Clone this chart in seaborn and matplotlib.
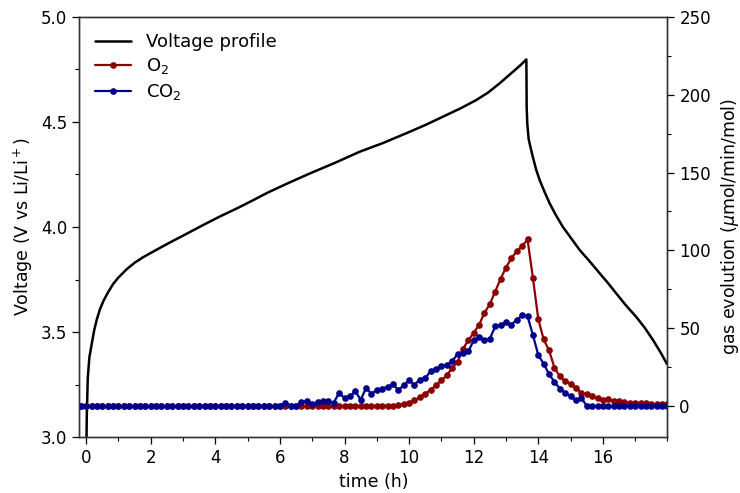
import numpy as np
import pandas as pd
import matplotlib
matplotlib.use("Agg")
import matplotlib.pyplot as plt
from matplotlib.ticker import MultipleLocator
from matplotlib.lines import Line2D
import seaborn as sns

# ---------------- data ----------------
volt_time = [0.0, 0.02, 0.05, 0.10, 0.18, 0.25, 0.33, 0.43, 0.54, 0.68, 0.84, 1.0,
             1.26, 1.5, 1.75, 1.98, 2.3, 2.6, 3.0, 3.63, 4.1, 4.66, 5.1, 5.6,
             6.2, 6.93, 7.7, 8.47, 9.2, 10.02, 10.5, 11.05, 11.6, 12.08, 12.45,
             12.8, 13.22, 13.45, 13.63,
             13.635, 13.64, 13.66, 13.70, 13.75, 13.83, 13.93, 14.04, 14.2, 14.35,
             14.55, 14.76, 15.0, 15.28, 15.6, 15.9, 16.15, 16.41, 16.7, 17.03,
             17.3, 17.55, 17.8, 17.98]
volt_value = [2.85, 3.10, 3.28, 3.38, 3.45, 3.51, 3.56, 3.61, 3.65, 3.69, 3.73, 3.76,
              3.80, 3.83, 3.855, 3.875, 3.902, 3.927, 3.959, 4.010, 4.047, 4.088, 4.122, 4.162,
              4.205, 4.255, 4.305, 4.358, 4.40, 4.453, 4.485, 4.525, 4.565, 4.604, 4.64,
              4.683, 4.739, 4.77, 4.797,
              4.70, 4.57, 4.49, 4.42, 4.385, 4.334, 4.275, 4.224, 4.165, 4.113,
              4.055, 4.001, 3.95, 3.891, 3.835, 3.78, 3.735, 3.685, 3.63, 3.573,
              3.52, 3.463, 3.40, 3.35]

gas_time = np.arange(-1, 109) / 6.0   # sampling every 10 min

o2 = [0.0] * 55 + [
    0.2, 0.3, 0.4, 0.4, 0.7, 1.3,
    2.2, 3.7, 5.8, 8.0, 10.5, 13.3,
    16.5, 19.7, 24.6, 28.2, 36.8, 42.2,
    47.1, 52.2, 59.9, 65.5, 73.6, 81.8,
    89.0, 95.0, 99.5, 102.7, 107.0, 82.4,
    55.8, 42.8, 35.8, 24.7, 19.1, 16.0,
    14.4, 11.8, 8.4, 7.5, 6.7, 5.1,
    3.9, 4.3, 3.0, 3.2, 2.5, 2.1,
    2.1, 2.1, 1.7, 1.3, 1.1, 1.3,
    1.3]

co2 = [0.0] * 38 + [
    2.2, 0.2, 0.0, 2.6, 3.2,
    1.1, 2.6, 3.0, 3.2, 2.2, 8.6,
    5.1, 6.2, 9.6, 4.1, 11.6, 8.0,
    10.5, 11.2, 12.6, 13.9, 10.5, 13.3,
    16.5, 13.7, 17.1, 18.0, 22.5, 24.0,
    25.7, 26.6, 28.7, 33.6, 34.0, 35.1,
    42.2, 44.3, 42.4, 43.2, 51.3, 51.8,
    53.9, 52.4, 55.4, 58.2, 57.8, 45.6,
    32.8, 27.2, 20.5, 15.6, 11.2, 8.4,
    6.4, 3.7, 5.4] + [0.0] * 16

x_ticks = [0, 2, 4, 6, 8, 10, 12, 14, 16]
volt_ticks = [3.0, 3.5, 4.0, 4.5, 5.0]
gas_ticks = [0, 50, 100, 150, 200, 250]

# ---------------- style ----------------
sns.set_style("ticks")
plt.rcParams['font.family'] = ['DejaVu Sans']
plt.rcParams['mathtext.fontset'] = 'dejavusans'
plt.rcParams['text.color'] = 'black'
plt.rcParams['axes.labelcolor'] = 'black'

fig = plt.figure(figsize=(7.40, 4.93), dpi=100)
ax1 = fig.add_subplot(111)
fig.subplots_adjust(left=0.1068, right=0.902, bottom=0.113, top=0.966)
ax2 = ax1.twinx()

vdf = pd.DataFrame({"t": volt_time, "V": volt_value})
gdf = pd.DataFrame({"t": gas_time, "O2": o2, "CO2": co2})

red = "#8b0000"
blue = "#00008b"

sns.lineplot(data=vdf, x="t", y="V", ax=ax1, color="black", lw=1.8,
             sort=False, estimator=None)
sns.lineplot(data=gdf, x="t", y="O2", ax=ax2, color=red, lw=1.6,
             marker="o", markersize=4.8, markeredgewidth=0, estimator=None)
sns.lineplot(data=gdf, x="t", y="CO2", ax=ax2, color=blue, lw=1.6,
             marker="o", markersize=4.8, markeredgewidth=0, estimator=None)

ax1.set_xlim(-0.22, 18.0)
ax1.set_ylim(3.0, 5.0)
ax2.set_ylim(-20, 250)

ax1.set_xticks(x_ticks)
ax1.set_xticklabels([str(v) for v in x_ticks])
ax1.set_yticks(volt_ticks)
ax1.set_yticklabels([f"{v:.1f}" for v in volt_ticks])
ax2.set_yticks(gas_ticks)
ax2.set_yticklabels([str(v) for v in gas_ticks])
ax1.xaxis.set_minor_locator(MultipleLocator(1))
ax1.yaxis.set_minor_locator(MultipleLocator(0.25))
ax2.yaxis.set_minor_locator(MultipleLocator(25))

for ax in (ax1, ax2):
    ax.tick_params(axis="both", which="major", direction="out", length=5,
                   width=0.9, labelsize=12, colors="black")
    ax.tick_params(axis="both", which="minor", direction="out", length=3,
                   width=0.8, colors="black")
    for sp in ax.spines.values():
        sp.set_visible(True)
        sp.set_color("#333333")
        sp.set_linewidth(1.0)

ax1.set_xlabel("time (h)", fontsize=12.5)
ax1.set_ylabel("Voltage (V vs Li/Li$^+$)", fontsize=12.5)
ax2.set_ylabel("gas evolution ($\\mu$mol/min/mol)", fontsize=12.5, labelpad=6)

handles = [
    Line2D([], [], color="black", lw=1.8),
    Line2D([], [], color=red, lw=1.6, marker="o", markersize=4.8, markeredgewidth=0),
    Line2D([], [], color=blue, lw=1.6, marker="o", markersize=4.8, markeredgewidth=0),
]
labels = ["Voltage profile", "O$_2$", "CO$_2$"]
ax2.legend(handles, labels, loc="upper left", frameon=False, fontsize=13,
           handlelength=2.0, borderaxespad=0.5, labelspacing=0.3)

fig.savefig("out.png", dpi=100)
